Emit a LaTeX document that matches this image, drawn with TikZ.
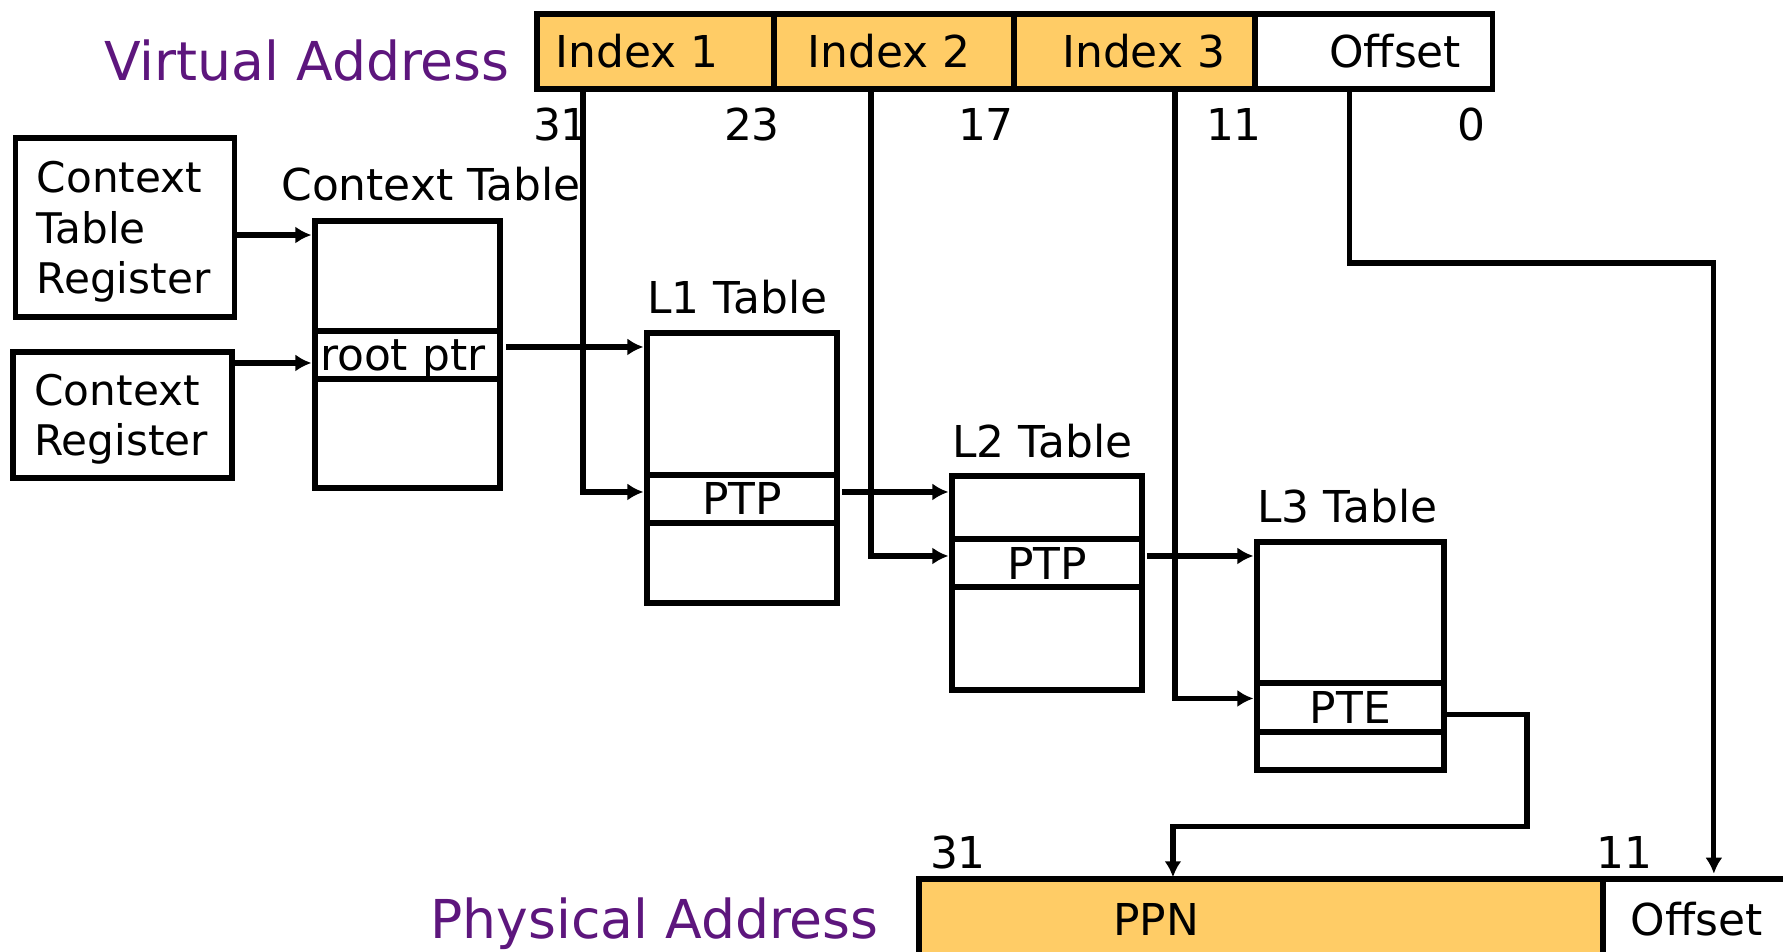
\documentclass[tikz,border=0pt]{standalone}
\usepackage{fontspec}
\setmainfont{DejaVu Sans}
\usepackage[dvipsnames]{xcolor}
\usetikzlibrary{positioning,arrows.meta}
\definecolor{fieldorange}{RGB}{255,204,102}
\definecolor{titlepurple}{RGB}{93,22,125}
\newcommand{\diagfont}{\fontsize{25}{30}\selectfont}
\newcommand{\regfont}{\fontsize{24}{28.8}\selectfont}
\newcommand{\addrfont}{\fontsize{30.5}{36}\selectfont}

\begin{document}
\begin{tikzpicture}[x=0.02cm,y=-0.02cm,>={Latex[length=0.32cm,width=0.34cm]},line join=miter,
    reg box/.style={draw,line width=3pt,inner xsep=0.43cm,inner ysep=0pt,outer sep=0pt,align=left,font=\regfont},
    tab cell/.style={draw,line width=3pt,inner sep=0pt,outer sep=0pt,font=\diagfont},
    va field/.style={draw,line width=3pt,fill=fieldorange,inner sep=0pt,outer sep=0pt,minimum height=1.5cm},
    field text/.style={anchor=base west,inner sep=0pt,font=\diagfont},
    tab title/.style={anchor=base west,inner sep=0pt,font=\diagfont},
    bit num/.style={anchor=base,inner sep=0pt,font=\diagfont},
    addr title/.style={anchor=base east,inner sep=0pt,text=titlepurple,font=\addrfont},
    link/.style={->,line width=3pt,shorten >=2pt}]

            \useasboundingbox (0,0) rectangle (1783,951);

            % virtual address
            \node[addr title] (vatitle) at (510,80) {Virtual Address};
            \node[va field,minimum width=4.74cm,anchor=north west] (idx1) at (537,14) {};
            \node[va field,minimum width=4.80cm,right=0pt of idx1] (idx2) {};
            \node[va field,minimum width=4.82cm,right=0pt of idx2] (idx3) {};
            \node[va field,minimum width=4.76cm,right=0pt of idx3,fill=white] (off) {};
            \node[field text] (idx1text) at ([xshift=0.36cm,yshift=-0.33cm]idx1.west) {Index 1};
            \node[field text] (idx2text) at ([xshift=0.67cm,yshift=-0.33cm]idx2.west) {Index 2};
            \node[field text] (idx3text) at ([xshift=0.96cm,yshift=-0.33cm]idx3.west) {Index 3};
            \node[field text] (offtext) at ([xshift=1.48cm,yshift=-0.33cm]off.west) {Offset};

            \node[bit num] (b31) at (561,140) {31};
            \node[bit num] (b23) at (752,140) {23};
            \node[bit num] (b17) at (986,140) {17};
            \node[bit num] (b11) at (1234,140) {11};
            \node[bit num] (b0) at (1471,140) {0};

            % registers
            \node[reg box,minimum width=4.39cm,minimum height=3.58cm,text width=3.53cm,text depth=57.6pt] (ctr) at (125,227.5) {Context\\Table\\Register};
            \node[reg box,minimum width=4.38cm,minimum height=2.52cm,text width=3.52cm,text depth=28.8pt] (cr) at (122.5,415) {Context\\Register};

            % context table
            \node[tab cell,minimum width=3.7cm,minimum height=2.2cm,anchor=north west] (ct1) at (315,221) {};
            \node[tab cell,minimum width=3.7cm,minimum height=0.96cm,below=0pt of ct1,text width=3.5cm,inner xsep=0.1cm,align=left,text depth=0pt] (ctroot) {root ptr};
            \node[tab cell,minimum width=3.7cm,minimum height=2.18cm,below=0pt of ctroot] (ct3) {};
            \node[tab title] (cttitle) at ([xshift=-0.68cm,yshift=0.42cm]ct1.north west) {Context Table};

            % L1 table
            \node[tab cell,minimum width=3.8cm,minimum height=2.84cm,anchor=north west] (l1top) at (647,333) {};
            \node[tab cell,minimum width=3.8cm,minimum height=0.96cm,below=0pt of l1top,text depth=-2pt] (l1ptp) {PTP};
            \node[tab cell,minimum width=3.8cm,minimum height=1.6cm,below=0pt of l1ptp] (l1bot) {};
            \node[tab title] (l1title) at ([yshift=0.4cm]l1top.north west) {L1 Table};

            % L2 table
            \node[tab cell,minimum width=3.8cm,minimum height=1.26cm,anchor=north west] (l2top) at (952,476) {};
            \node[tab cell,minimum width=3.8cm,minimum height=0.96cm,below=0pt of l2top,text depth=-2pt] (l2ptp) {PTP};
            \node[tab cell,minimum width=3.8cm,minimum height=2.06cm,below=0pt of l2ptp] (l2bot) {};
            \node[tab title] (l2title) at ([yshift=0.38cm]l2top.north west) {L2 Table};

            % L3 table
            \node[tab cell,minimum width=3.74cm,minimum height=2.82cm,anchor=north west] (l3top) at (1257,542) {};
            \node[tab cell,minimum width=3.74cm,minimum height=0.98cm,below=0pt of l3top,text depth=-2pt] (l3pte) {PTE};
            \node[tab cell,minimum width=3.74cm,minimum height=0.76cm,below=0pt of l3pte] (l3bot) {};
            \node[tab title] (l3title) at ([yshift=0.4cm]l3top.north west) {L3 Table};

            % physical address
            \node[addr title] (patitle) at (879,938) {Physical Address};
            \node[va field,minimum width=13.68cm,minimum height=1.6cm,anchor=north west] (ppn) at (919,879) {};
            \node[va field,minimum width=3.76cm,minimum height=1.6cm,right=0pt of ppn,fill=white,font=\diagfont] (poff) {Offset};
            \node[inner sep=0pt,font=\diagfont] (ppntext) at ([xshift=4.74cm]ppn.west) {PPN};
            \node[bit num] (p31) at (958,868) {31};
            \node[bit num] (p11) at (1624,868) {11};

            % connectors
            \coordinate (ctrout) at ([yshift=-0.15cm]ctr.east);
            \draw[link] (ctrout) to (ctrout -| ct1.west);
            \coordinate (crin) at ([yshift=-0.16cm]ctroot.west);
            \draw[link] (cr.east |- crin) to (crin);
            \coordinate (rootout) at ([yshift=0.16cm]ctroot.east);
            \draw[link,shorten <=0.12cm] (rootout) to (rootout -| l1top.west);

            \coordinate (l1in) at ([yshift=0.14cm]l1ptp.west);
            \draw[link] ([xshift=0.92cm]idx1.south west) |- (l1in);
            \coordinate (l1out) at ([yshift=0.14cm]l1ptp.east);
            \draw[link,shorten <=0.1cm] (l1out) to (l1out -| l2top.west);

            \coordinate (l2in) at ([yshift=0.14cm]l2ptp.west);
            \draw[link] ([xshift=1.94cm]idx2.south west) |- (l2in);
            \coordinate (l2out) at ([yshift=0.14cm]l2ptp.east);
            \draw[link,shorten <=0.1cm] (l2out) to (l2out -| l3top.west);

            \coordinate (l3in) at ([yshift=0.18cm]l3pte.west);
            \draw[link] ([xshift=3.22cm]idx3.south west) |- (l3in);
            \coordinate (ppnin) at ([xshift=5.08cm]ppn.north west);
            \draw[link,shorten >=1pt] ([yshift=-0.14cm]l3pte.east) -- ++(1.66cm,0) -- ++(0,-2.24cm) -| (ppnin);

            \coordinate (offin) at ([xshift=2.22cm]poff.north west);
            \draw[link,shorten >=3pt] ([xshift=1.9cm]off.south west) -- ++(0,-3.48cm) -| (offin);

            ;
        \end{tikzpicture}
\end{document}
